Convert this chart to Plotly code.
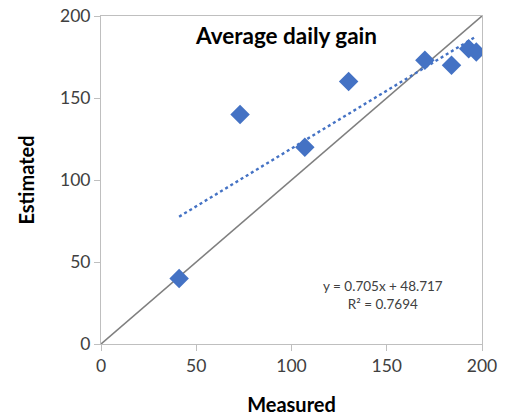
import plotly.graph_objects as go

measured = [41, 73, 107, 130, 170, 184, 193, 197]
estimated = [40, 140, 120, 160, 173, 170, 180, 178]
slope = 0.705
intercept = 48.717
r2 = 0.7694
ticks = [0, 50, 100, 150, 200]

fig = go.Figure()
# 1:1 line
fig.add_trace(go.Scatter(x=[0, 200], y=[0, 200], mode="lines",
                         line=dict(color="#7f7f7f", width=1.6), hoverinfo="skip"))
# trendline
tx = [min(measured), max(measured)]
ty = [slope * v + intercept for v in tx]
fig.add_trace(go.Scatter(x=tx, y=ty, mode="lines",
                         line=dict(color="#4472C4", width=2.4, dash="dot")))
# points
fig.add_trace(go.Scatter(x=measured, y=estimated, mode="markers",
                         marker=dict(symbol="diamond", size=15, color="#4472C4")))

font = "Lato, 'Open Sans', sans-serif"
axis_common = dict(range=[0, 200], tickvals=ticks, showgrid=False, zeroline=False,
                   showline=True, linecolor="#bfbfbf", linewidth=1, mirror=True,
                   ticks="outside", ticklen=6, tickcolor="#bfbfbf", automargin=False,
                   tickfont=dict(family=font, size=17.5, color="#404040"))
fig.update_xaxes(**axis_common,
                 title=dict(text="<b>Measured</b>", font=dict(family=font, size=20, color="#000"),
                            standoff=22))
fig.update_yaxes(**axis_common,
                 title=dict(text="<b>Estimated</b>", font=dict(family=font, size=20, color="#000"),
                            standoff=20))

fig.add_annotation(x=97, y=188, xref="x", yref="y",
                   text="<b>Average daily gain</b>", showarrow=False,
                   font=dict(family=font, size=22.5, color="#000"))
fig.add_annotation(x=148, y=30, xref="x", yref="y",
                   text=f"y = {slope}x + {intercept}<br>R² = {r2}", showarrow=False,
                   font=dict(family=font, size=13.5, color="#404040"), align="center")

fig.update_layout(width=509, height=418, showlegend=False,
                  plot_bgcolor="white", paper_bgcolor="white",
                  margin=dict(l=101, r=27, t=16, b=74))
fig.write_html("out.html")
